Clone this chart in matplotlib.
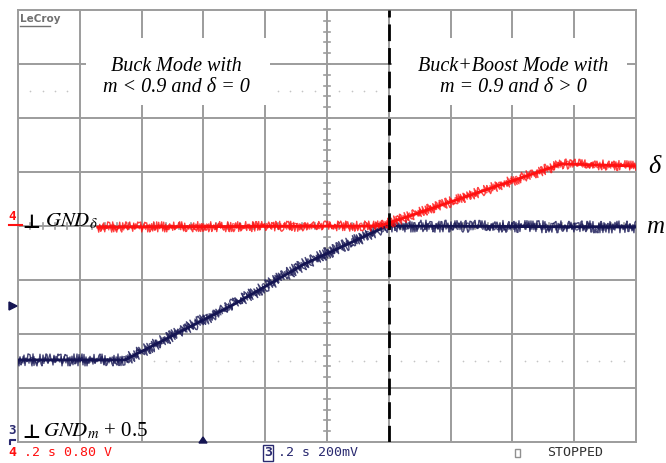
import matplotlib
matplotlib.use("Agg")
import matplotlib.pyplot as plt
import numpy as np
from matplotlib.patches import Rectangle, Polygon

plt.rcParams["mathtext.fontset"] = "stix"

delta_t = [1.29, 5.86, 8.80, 10.0]
delta_v = [3.98, 4.00, 5.15, 5.11]
m_t = [0.0, 1.73, 3.48, 4.64, 5.97, 10.0]
m_v = [1.52, 1.52, 2.54, 3.30, 4.00, 3.98]

n_xdiv = 10
n_ydiv = 8
mode_boundary = 6.0

left_mode = "Buck Mode with\nm < 0.9 and δ = 0"
right_mode = "Buck+Boost Mode with\nm = 0.9 and δ > 0"
status_ch4 = ".2 s 0.80 V"
status_ch3 = ".2 s 200mV"
status_run = "STOPPED"

# ---------------- figure ----------------
W, H = 666, 463
fig = plt.figure(figsize=(W / 100, H / 100), dpi=100)
fig.patch.set_facecolor("white")
L, R, T, B = 18, 636, 10, 442
ax = fig.add_axes([L / W, 1 - B / H, (R - L) / W, (B - T) / H])
ax.set_xlim(0, n_xdiv)
ax.set_ylim(0, n_ydiv)
ax.set_xticks([])
ax.set_yticks([])
for s in ax.spines.values():
    s.set_color("#9c9c9c")
    s.set_linewidth(1.4)

gcol = "#9c9c9c"
for i in range(1, n_xdiv):
    ax.axvline(i, color=gcol, lw=1.4, zorder=1)
for j in range(1, n_ydiv):
    ax.axhline(j, color=gcol, lw=1.4, zorder=1)

# centre graticule ticks
for k in np.arange(0.2, n_ydiv, 0.2):
    ax.plot([4.95, 5.05], [k, k], color=gcol, lw=1.2, zorder=1)
for k in np.arange(0.2, n_xdiv, 0.2):
    ax.plot([k, k], [3.945, 4.055], color=gcol, lw=1.2, zorder=1)

# faint dotted graticule rows
dots = np.array([x for x in np.arange(0.2, n_xdiv, 0.2) if abs(x - round(x)) > 0.05])
for yy in (1.5, 6.5):
    ax.scatter(dots, np.full_like(dots, yy), s=1.5, color="#c4c4c4", zorder=1, linewidths=0)

# white boxes behind annotations
ax.add_patch(Rectangle((1.10, 6.24), 2.98, 1.24, facecolor="white", edgecolor="none", zorder=3))
ax.add_patch(Rectangle((6.05, 6.24), 3.80, 1.24, facecolor="white", edgecolor="none", zorder=3))

serif = "Liberation Serif"
ax.text(2.57, 6.76, left_mode, ha="center", va="center", fontsize=14.5,
        family=serif, style="italic", linespacing=1.15, zorder=4)
ax.text(8.01, 6.76, right_mode, ha="center", va="center", fontsize=14.5,
        family=serif, style="italic", linespacing=1.15, zorder=4)

# dashed mode boundary
ax.axvline(mode_boundary, color="black", lw=2.0, dashes=(6, 2.5), zorder=6)

# traces (noisy look via sketch rendering)
red = "#ff1010"
navy = "#141452"
for t, v, c, amp in ((m_t, m_v, navy, 1.0), (delta_t, delta_v, red, 0.85)):
    ax.plot(t, v, color=c, lw=2.0, zorder=5, solid_joinstyle="round")
    ln, = ax.plot(t, v, color=c, lw=1.0, zorder=5, alpha=0.8)
    ln.set_sketch_params(scale=6.0 * amp, length=1.3, randomness=3)
    ln2, = ax.plot(t, v, color=c, lw=0.9, zorder=5, alpha=0.7)
    ln2.set_sketch_params(scale=3.5 * amp, length=1.0, randomness=4)

# right-hand labels
ax.text(10.20, 5.09, "δ", fontsize=19, family=serif, style="italic",
        ha="left", va="center", clip_on=False)
ax.text(10.17, 3.98, "m", fontsize=18, family=serif, style="italic",
        ha="left", va="center", clip_on=False)

# ground markers
ax.text(0.21, 4.06, "⊥", fontsize=14, fontweight="bold", ha="center", va="center",
        family="DejaVu Sans", color="black", clip_on=False, zorder=7)
ax.text(0.43, 4.09, r"$GND_{\delta}$", fontsize=15, ha="left", va="center", clip_on=False, zorder=7)
ax.text(0.21, 0.18, "⊥", fontsize=14, fontweight="bold", ha="center", va="center",
        family="DejaVu Sans", color="black", clip_on=False, zorder=7)
ax.text(0.40, 0.20, r"$GND_{m}$ + 0.5", fontsize=15, family=serif, ha="left", va="center",
        clip_on=False, zorder=7)

# channel markers on the left
fig.text(12 / W, 1 - 216 / H, "4", color=red, fontsize=9, fontweight="bold",
         family="DejaVu Sans Mono", ha="center", va="center")
fig.add_artist(plt.Line2D([9 / W, 22 / W], [1 - 225 / H, 1 - 225 / H], color=red, lw=1.5))
fig.text(12 / W, 1 - 430 / H, "3", color="#2a2a70", fontsize=9, fontweight="bold",
         family="DejaVu Sans Mono", ha="center", va="center")
fig.add_artist(plt.Line2D([10 / W, 10 / W, 15 / W], [1 - 444 / H, 1 - 440 / H, 1 - 440 / H],
                          color="#2a2a70", lw=1.5))
# trigger markers
fig.add_artist(Polygon([[9 / W, 1 - 302 / H], [9 / W, 1 - 310 / H], [17 / W, 1 - 306 / H]],
                       closed=True, color=navy, transform=fig.transFigure))
fig.add_artist(Polygon([[199 / W, 1 - 443 / H], [207 / W, 1 - 443 / H], [203 / W, 1 - 437 / H]],
                       closed=True, color=navy, transform=fig.transFigure))

# LeCroy logo
fig.text(20 / W, 1 - 19 / H, "LeCroy", color="#707070", fontsize=7.5, fontweight="bold",
         family="DejaVu Sans", ha="left", va="center")
fig.add_artist(plt.Line2D([20 / W, 50 / W], [1 - 26 / H, 1 - 26 / H], color="#707070", lw=1))

# status bar
mono = "DejaVu Sans Mono"
fig.text(12 / W, 1 - 453 / H, "4", color=red, fontsize=9.5, fontweight="bold",
         family=mono, ha="center", va="center")
fig.text(24 / W, 1 - 453 / H, status_ch4, color=red, fontsize=9.5, family=mono,
         ha="left", va="center")
fig.text(268 / W, 1 - 453 / H, "3", color="#2a2a70", fontsize=9.5, fontweight="bold",
         family=mono, ha="center", va="center",
         bbox=dict(boxstyle="square,pad=0.08", facecolor="white", edgecolor="#2a2a70", lw=1))
fig.text(278 / W, 1 - 453 / H, status_ch3, color="#2a2a70", fontsize=9.5, family=mono,
         ha="left", va="center")
fig.add_artist(Rectangle((515 / W, 1 - 457 / H), 5 / W, 8 / H, facecolor="white",
                         edgecolor="#909090", lw=1, transform=fig.transFigure))
fig.text(547 / W, 1 - 453 / H, status_run, color="#303030", fontsize=9.5, family=mono,
         ha="left", va="center")

fig.savefig("out.png", dpi=100, facecolor="white")
